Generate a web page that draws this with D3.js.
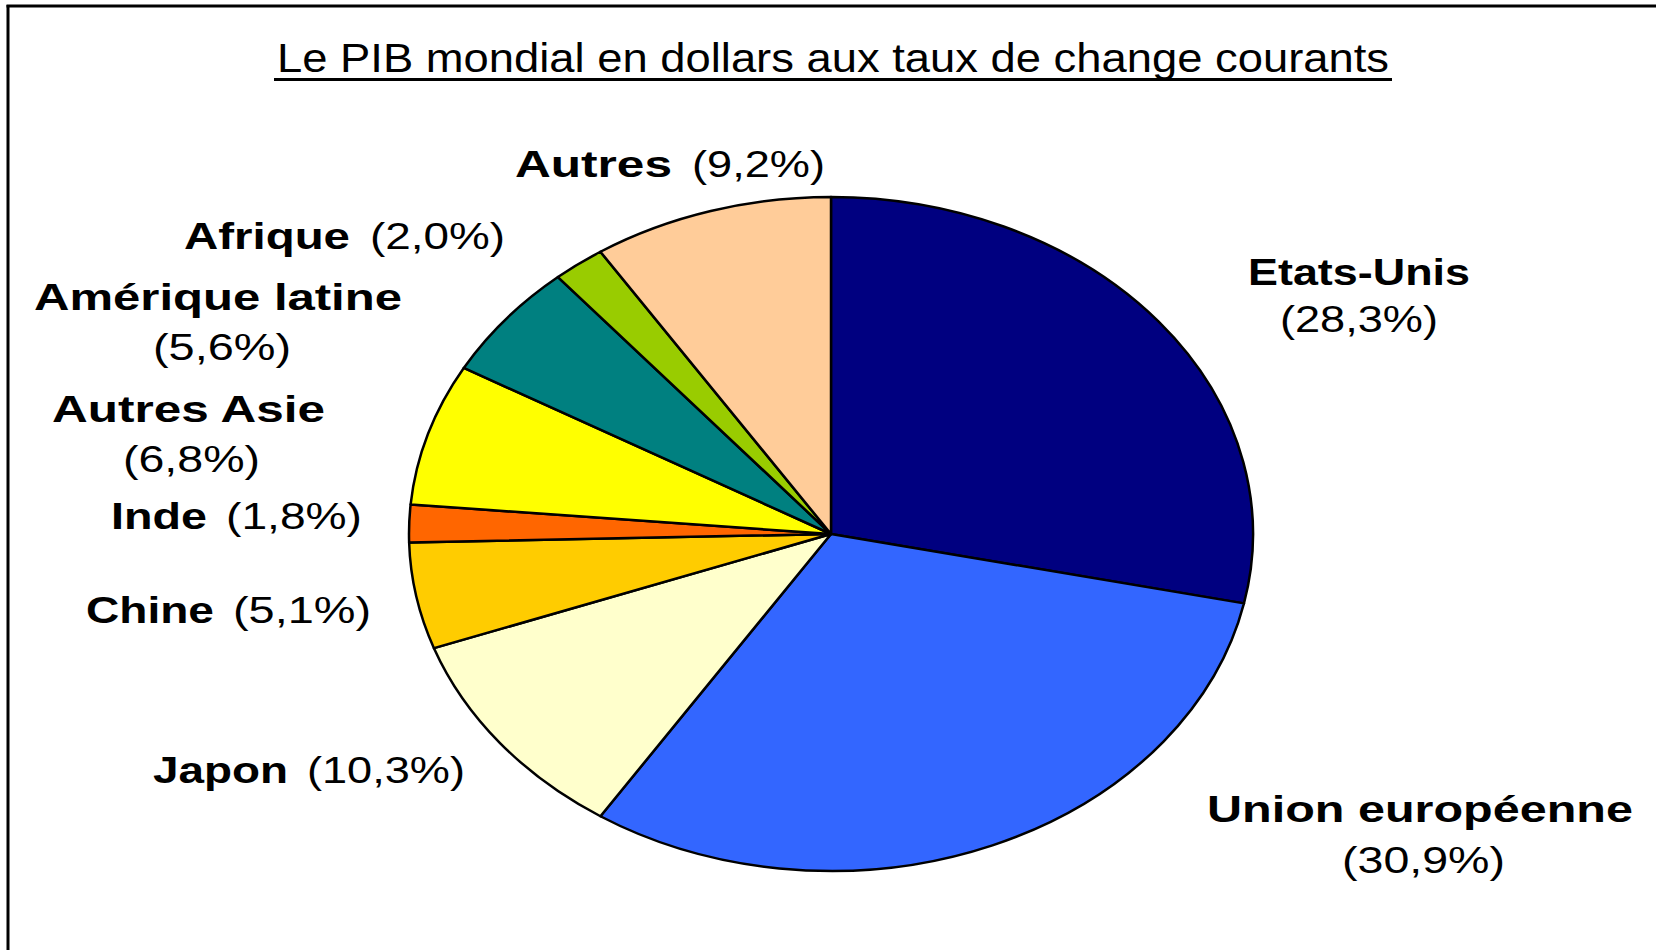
<!DOCTYPE html>
<html>
<head>
<meta charset="utf-8">
<script src="https://cdn.jsdelivr.net/npm/d3@7/dist/d3.min.js"></script>
<style>
  html, body { margin: 0; padding: 0; background: #fff; }
  svg { display: block; }
  text { font-family: "Liberation Sans", Arial, sans-serif; fill: #000; }
</style>
</head>
<body>
<svg id="chart" width="1656" height="950"></svg>
<script>
// ---- Data ----
const title = "Le PIB mondial en dollars aux taux de change courants";
const categories = ["Etats-Unis", "Union européenne", "Japon", "Chine", "Inde",
                    "Autres Asie", "Amérique latine", "Afrique", "Autres"];
const values = [28.3, 30.9, 10.3, 5.1, 1.8, 6.8, 5.6, 2.0, 9.2];
const colors = ["#000080", "#3366FF", "#FFFFCC", "#FFCC00", "#FF6600",
                "#FFFF00", "#008080", "#99CC00", "#FFCC99"];

// ---- Label layout (name: x, baseline, width ; pct: x, baseline, width) ----
const labelLayout = {
  "Etats-Unis":       { n: [1248, 285, 222], p: [1280, 332, 158] },
  "Union européenne": { n: [1207, 822, 426], p: [1342, 873, 163] },
  "Japon":            { n: [153, 783, 135],  p: [307, 783, 158] },
  "Chine":            { n: [86, 623, 128],   p: [233, 623, 138] },
  "Inde":             { n: [111, 529, 96],   p: [226, 529, 136] },
  "Autres Asie":      { n: [52, 422, 273],   p: [123, 472, 137] },
  "Amérique latine":  { n: [34, 310, 368],   p: [153, 360, 138] },
  "Afrique":          { n: [184, 249, 166],  p: [370, 249, 135] },
  "Autres":           { n: [515, 177, 157],  p: [692, 177, 133] }
};

const svg = d3.select("#chart");

// Frame
svg.append("line").attr("x1", 6.5).attr("x2", 1656).attr("y1", 6).attr("y2", 6)
  .attr("stroke", "#000").attr("stroke-width", 3);
svg.append("line").attr("x1", 8).attr("x2", 8).attr("y1", 5).attr("y2", 950)
  .attr("stroke", "#000").attr("stroke-width", 3);

// Title
svg.append("text")
  .attr("x", 277).attr("y", 72)
  .attr("font-size", 40)
  .attr("textLength", 1112)
  .attr("lengthAdjust", "spacingAndGlyphs")
  .text(title);
svg.append("line").attr("x1", 274).attr("x2", 1392).attr("y1", 79.5).attr("y2", 79.5)
  .attr("stroke", "#000").attr("stroke-width", 3);

// Pie (elliptical)
const cx = 831, cy = 534, rx = 422, ry = 337;
const data = categories.map((c, i) => ({ name: c, value: values[i], color: colors[i] }));
const pie = d3.pie().sort(null).value(d => d.value);
const arc = d3.arc().innerRadius(0).outerRadius(ry);

const g = svg.append("g")
  .attr("transform", `translate(${cx},${cy}) scale(${rx / ry},1)`);
g.selectAll("path")
  .data(pie(data))
  .join("path")
  .attr("d", arc)
  .attr("fill", d => d.data.color)
  .attr("stroke", "#000")
  .attr("stroke-width", 2.5)
  .attr("stroke-linejoin", "round")
  .attr("vector-effect", "non-scaling-stroke");

// Labels
const fmt = v => "(" + v.toFixed(1).replace(".", ",") + "%)";
data.forEach(d => {
  const L = labelLayout[d.name];
  svg.append("text")
    .attr("x", L.n[0]).attr("y", L.n[1])
    .attr("font-size", 37).attr("font-weight", "bold")
    .attr("textLength", L.n[2]).attr("lengthAdjust", "spacingAndGlyphs")
    .text(d.name);
  svg.append("text")
    .attr("x", L.p[0]).attr("y", L.p[1])
    .attr("font-size", 36)
    .attr("textLength", L.p[2]).attr("lengthAdjust", "spacingAndGlyphs")
    .text(fmt(d.value));
});
</script>
</body>
</html>
